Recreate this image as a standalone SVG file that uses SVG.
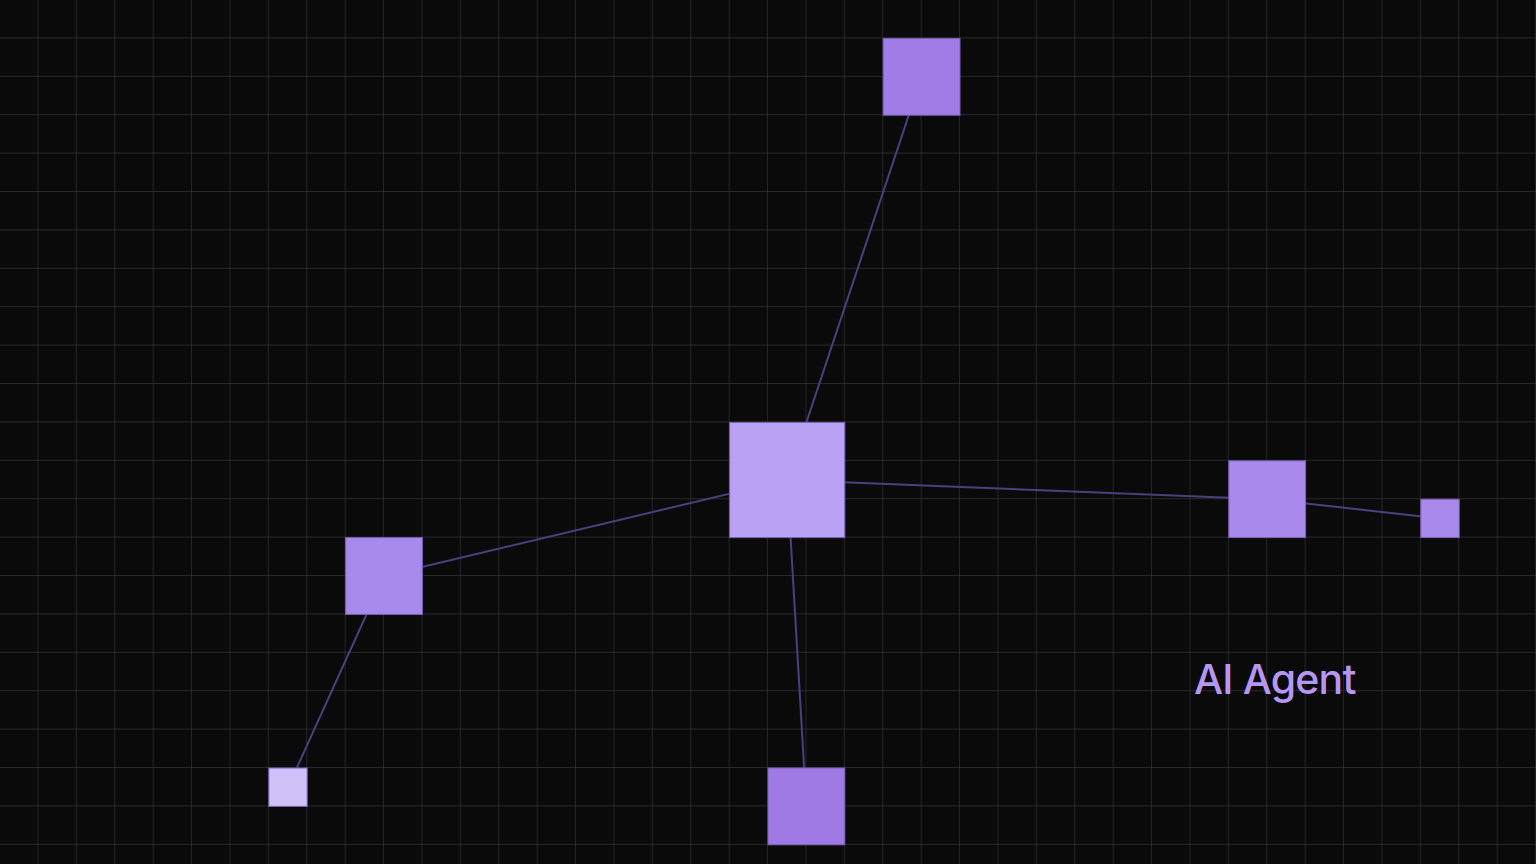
<svg xmlns="http://www.w3.org/2000/svg" width="1536" height="864" viewBox="0 0 1536 864">
  <defs>
    <pattern id="grid" x="0" y="0" width="38.4" height="38.4" patternUnits="userSpaceOnUse">
      <path d="M38.4 0 V38.4 M0 38.4 H38.4" fill="none" stroke="#323237" stroke-width="1.3"/>
    </pattern>
  </defs>
  <style>
    .edge { stroke: #4b3f7e; stroke-width: 2; fill: none; }
    .node { stroke: #7a62b8; stroke-width: 1; }
    .label { font-family: Inter, "Liberation Sans", sans-serif; font-size: 41px; font-weight: 500; letter-spacing: -0.8px; fill: #b597f2; }
  </style>
  <rect x="0" y="0" width="1536" height="864" fill="#0a0a0a"/>
  <rect x="0" y="0" width="1536" height="864" fill="url(#grid)"/>
  <g id="connectors">
    <line class="edge" x1="787.2" y1="480" x2="921.6" y2="76.8"/>
    <line class="edge" x1="787.2" y1="480" x2="384" y2="576"/>
    <line class="edge" x1="384" y1="576" x2="288" y2="787.2"/>
    <line class="edge" x1="787.2" y1="480" x2="806.4" y2="806.4"/>
    <line class="edge" x1="787.2" y1="480" x2="1267.2" y2="499.2"/>
    <line class="edge" x1="1267.2" y1="499.2" x2="1440" y2="518.4"/>
  </g>
  <g id="node-top"><rect class="node" x="883.2" y="38.4" width="76.8" height="76.8" fill="#a07de6"/></g>
  <g id="node-center"><rect class="node" x="729.6" y="422.4" width="115.2" height="115.2" fill="#b9a2f3"/></g>
  <g id="node-right"><rect class="node" x="1228.8" y="460.8" width="76.8" height="76.8" fill="#a98aec"/></g>
  <g id="node-far-right"><rect class="node" x="1420.8" y="499.2" width="38.4" height="38.4" fill="#a98aec"/></g>
  <g id="node-left"><rect class="node" x="345.6" y="537.6" width="76.8" height="76.8" fill="#a88aec"/></g>
  <g id="node-bottom-left"><rect class="node" x="268.8" y="768" width="38.4" height="38.4" fill="#cfc0f8"/></g>
  <g id="node-bottom"><rect class="node" x="768" y="768" width="76.8" height="76.8" fill="#9f7ae5"/></g>
  <text class="label" x="1194" y="693.5">AI Agent</text>
</svg>
